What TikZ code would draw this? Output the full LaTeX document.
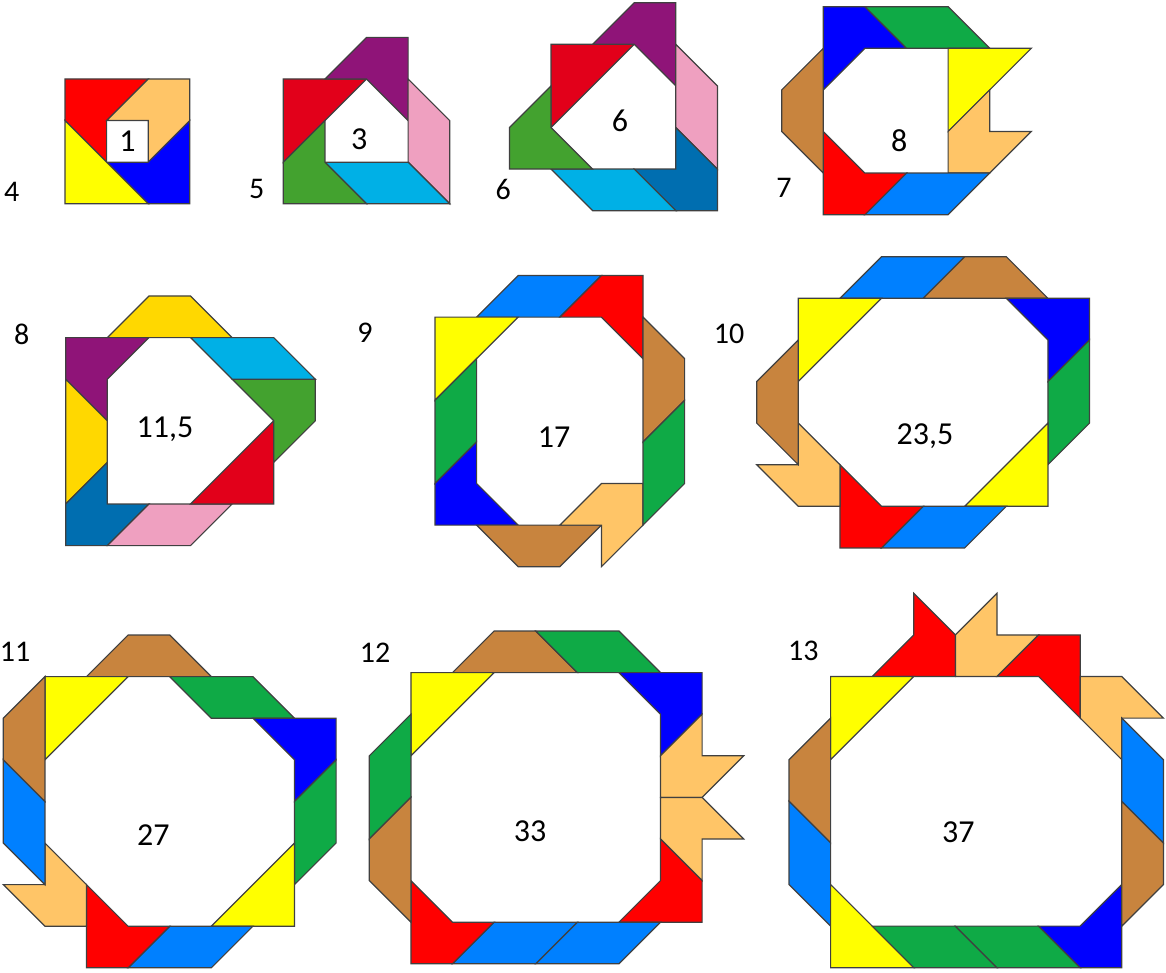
\documentclass[tikz,border=0pt]{standalone}
\usepackage{fontspec}
\setmainfont{Carlito}
\usepackage{xcolor}
\definecolor{tred}{HTML}{FF0000}
\definecolor{tcrimson}{HTML}{E2001A}
\definecolor{torange}{HTML}{FFC567}
\definecolor{tblue}{HTML}{0000FF}
\definecolor{tyellow}{HTML}{FFFF00}
\definecolor{tgold}{HTML}{FFD800}
\definecolor{tpurple}{HTML}{8F1478}
\definecolor{tpink}{HTML}{EFA0C0}
\definecolor{tgreenA}{HTML}{43A22F}
\definecolor{tgreenB}{HTML}{0FAA46}
\definecolor{tcyan}{HTML}{00B0E6}
\definecolor{tdarkblue}{HTML}{006EB0}
\definecolor{tazure}{HTML}{0080FF}
\definecolor{tbrown}{HTML}{C8843E}

\begin{document}
\begin{tikzpicture}[
    x=1pt, y=-1pt,
    piece/.style={draw=black!75, line width=1.2pt, line join=miter},
    grid/.style={x=41.6pt, y=-41.6pt},
    count/.style={font=\fontsize{30}{30}\selectfont},
    area/.style={font=\fontsize{32}{32}\selectfont}
]
    \useasboundingbox (0,0) rectangle (1166,973);

    % 4 pieces
    \begin{scope}[shift={(65,79)}, grid]
        \draw[piece, fill=tred] (0,0) -- (2,0) -- (1,1) -- (1,2) -- (0,1) -- cycle;
        \draw[piece, fill=torange] (1,1) -- (2,0) -- (3,0) -- (3,1) -- (2,2) -- (2,1) -- cycle;
        \draw[piece, fill=tblue] (3,1) -- (3,3) -- (2,3) -- (1,2) -- (2,2) -- cycle;
        \draw[piece, fill=tyellow] (0,1) -- (2,3) -- (0,3) -- cycle;
    \end{scope}

    % 5 pieces
    \begin{scope}[shift={(283.3,79)}, grid]
        \draw[piece, fill=tcrimson] (0,0) -- (2,0) -- (0,2) -- cycle;
        \draw[piece, fill=tpurple] (1,0) -- (2,-1) -- (3,-1) -- (3,1) -- (2,0) -- cycle;
        \draw[piece, fill=tpink] (3,0) -- (4,1) -- (4,3) -- (3,2) -- cycle;
        \draw[piece, fill=tcyan] (1,2) -- (3,2) -- (4,3) -- (2,3) -- cycle;
        \draw[piece, fill=tgreenA] (0,2) -- (1,1) -- (1,2) -- (2,3) -- (0,3) -- cycle;
    \end{scope}

    % 6 pieces
    \begin{scope}[shift={(551,44.3)}, grid]
        \draw[piece, fill=tcrimson] (0,0) -- (2,0) -- (0,2) -- cycle;
        \draw[piece, fill=tpurple] (1,0) -- (2,-1) -- (3,-1) -- (3,1) -- (2,0) -- cycle;
        \draw[piece, fill=tpink] (3,0) -- (4,1) -- (4,3) -- (3,2) -- cycle;
        \draw[piece, fill=tdarkblue] (2,3) -- (3,3) -- (3,2) -- (4,3) -- (4,4) -- (3,4) -- cycle;
        \draw[piece, fill=tcyan] (0,3) -- (2,3) -- (3,4) -- (1,4) -- cycle;
        \draw[piece, fill=tgreenA] (-1,2) -- (0,1) -- (0,2) -- (1,3) -- (-1,3) -- cycle;
    \end{scope}

    % 7 pieces
    \begin{scope}[shift={(823.3,6.7)}, grid]
        \draw[piece, fill=tblue] (0,0) -- (1,0) -- (2,1) -- (1,1) -- (0,2) -- cycle;
        \draw[piece, fill=tgreenB] (1,0) -- (3,0) -- (4,1) -- (2,1) -- cycle;
        \draw[piece, fill=tyellow] (3,1) -- (5,1) -- (3,3) -- cycle;
        \draw[piece, fill=torange] (3,3) -- (4,2) -- (4,3) -- (5,3) -- (4,4) -- (3,4) -- cycle;
        \draw[piece, fill=tazure] (2,4) -- (4,4) -- (3,5) -- (1,5) -- cycle;
        \draw[piece, fill=tred] (0,3) -- (1,4) -- (2,4) -- (1,5) -- (0,5) -- cycle;
        \draw[piece, fill=tbrown] (-1,2) -- (0,1) -- (0,4) -- (-1,3) -- cycle;
    \end{scope}

    % 8 pieces
    \begin{scope}[shift={(65.7,296)}, grid]
        \draw[piece, fill=tgold] (1,1) -- (2,0) -- (3,0) -- (4,1) -- cycle;
        \draw[piece, fill=tpurple] (0,1) -- (2,1) -- (1,2) -- (1,3) -- (0,2) -- cycle;
        \draw[piece, fill=tgold] (0,2) -- (1,3) -- (1,4) -- (0,5) -- cycle;
        \draw[piece, fill=tdarkblue] (0,5) -- (1,4) -- (1,5) -- (2,5) -- (1,6) -- (0,6) -- cycle;
        \draw[piece, fill=tpink] (2,5) -- (4,5) -- (3,6) -- (1,6) -- cycle;
        \draw[piece, fill=tcrimson] (3,5) -- (5,3) -- (5,5) -- cycle;
        \draw[piece, fill=tgreenA] (4,2) -- (6,2) -- (6,3) -- (5,4) -- (5,3) -- cycle;
        \draw[piece, fill=tcyan] (3,1) -- (5,1) -- (6,2) -- (4,2) -- cycle;
    \end{scope}

    % 9 pieces
    \begin{scope}[shift={(435,275.5)}, grid]
        \draw[piece, fill=tazure] (1,1) -- (2,0) -- (4,0) -- (3,1) -- cycle;
        \draw[piece, fill=tred] (3,1) -- (4,0) -- (5,0) -- (5,2) -- (4,1) -- cycle;
        \draw[piece, fill=tyellow] (0,1) -- (2,1) -- (0,3) -- cycle;
        \draw[piece, fill=tgreenB] (0,3) -- (1,2) -- (1,4) -- (0,5) -- cycle;
        \draw[piece, fill=tblue] (0,5) -- (1,4) -- (1,5) -- (2,6) -- (0,6) -- cycle;
        \draw[piece, fill=tbrown] (1,6) -- (4,6) -- (3,7) -- (2,7) -- cycle;
        \draw[piece, fill=torange] (3,6) -- (4,5) -- (5,5) -- (5,6) -- (4,7) -- (4,6) -- cycle;
        \draw[piece, fill=tbrown] (5,1) -- (6,2) -- (6,3) -- (5,4) -- cycle;
        \draw[piece, fill=tgreenB] (5,4) -- (6,3) -- (6,5) -- (5,6) -- cycle;
    \end{scope}

    % 10 pieces
    \begin{scope}[shift={(756.7,256.7)}, grid]
        \draw[piece, fill=tazure] (2,1) -- (3,0) -- (5,0) -- (4,1) -- cycle;
        \draw[piece, fill=tbrown] (4,1) -- (5,0) -- (6,0) -- (7,1) -- cycle;
        \draw[piece, fill=tyellow] (1,1) -- (3,1) -- (1,3) -- cycle;
        \draw[piece, fill=tblue] (6,1) -- (8,1) -- (8,2) -- (7,3) -- (7,2) -- cycle;
        \draw[piece, fill=tgreenB] (7,3) -- (8,2) -- (8,4) -- (7,5) -- cycle;
        \draw[piece, fill=tyellow] (5,6) -- (7,4) -- (7,6) -- cycle;
        \draw[piece, fill=tazure] (4,6) -- (6,6) -- (5,7) -- (3,7) -- cycle;
        \draw[piece, fill=tred] (2,5) -- (3,6) -- (4,6) -- (3,7) -- (2,7) -- cycle;
        \draw[piece, fill=torange] (1,4) -- (2,5) -- (2,6) -- (1,6) -- (0,5) -- (1,5) -- cycle;
        \draw[piece, fill=tbrown] (0,3) -- (1,2) -- (1,5) -- (0,4) -- cycle;
    \end{scope}

    % 11 pieces
    \begin{scope}[shift={(3.3,635)}, grid]
        \draw[piece, fill=tbrown] (2,1) -- (3,0) -- (4,0) -- (5,1) -- cycle;
        \draw[piece, fill=tyellow] (1,1) -- (3,1) -- (1,3) -- cycle;
        \draw[piece, fill=tgreenB] (4,1) -- (6,1) -- (7,2) -- (5,2) -- cycle;
        \draw[piece, fill=tblue] (6,2) -- (8,2) -- (8,3) -- (7,4) -- (7,3) -- cycle;
        \draw[piece, fill=tgreenB] (7,4) -- (8,3) -- (8,5) -- (7,6) -- cycle;
        \draw[piece, fill=tyellow] (5,7) -- (7,5) -- (7,7) -- cycle;
        \draw[piece, fill=tazure] (3,8) -- (4,7) -- (6,7) -- (5,8) -- cycle;
        \draw[piece, fill=tred] (2,6) -- (3,7) -- (4,7) -- (3,8) -- (2,8) -- cycle;
        \draw[piece, fill=torange] (1,5) -- (2,6) -- (2,7) -- (1,7) -- (0,6) -- (1,6) -- cycle;
        \draw[piece, fill=tazure] (0,3) -- (1,4) -- (1,6) -- (0,5) -- cycle;
        \draw[piece, fill=tbrown] (0,2) -- (1,1) -- (1,4) -- (0,3) -- cycle;
    \end{scope}

    % 12 pieces
    \begin{scope}[shift={(369.3,631)}, grid]
        \draw[piece, fill=tbrown] (2,1) -- (3,0) -- (4,0) -- (5,1) -- cycle;
        \draw[piece, fill=tgreenB] (4,0) -- (6,0) -- (7,1) -- (5,1) -- cycle;
        \draw[piece, fill=tyellow] (1,1) -- (3,1) -- (1,3) -- cycle;
        \draw[piece, fill=tblue] (6,1) -- (8,1) -- (8,2) -- (7,3) -- (7,2) -- cycle;
        \draw[piece, fill=torange] (7,3) -- (8,2) -- (8,3) -- (9,3) -- (8,4) -- (7,4) -- cycle;
        \draw[piece, fill=torange] (7,4) -- (8,4) -- (9,5) -- (8,5) -- (8,6) -- (7,5) -- cycle;
        \draw[piece, fill=tred] (7,5) -- (8,6) -- (8,7) -- (6,7) -- (7,6) -- cycle;
        \draw[piece, fill=tazure] (5,7) -- (7,7) -- (6,8) -- (4,8) -- cycle;
        \draw[piece, fill=tazure] (3,7) -- (5,7) -- (4,8) -- (2,8) -- cycle;
        \draw[piece, fill=tred] (1,6) -- (2,7) -- (3,7) -- (2,8) -- (1,8) -- cycle;
        \draw[piece, fill=tgreenB] (0,3) -- (1,2) -- (1,4) -- (0,5) -- cycle;
        \draw[piece, fill=tbrown] (0,5) -- (1,4) -- (1,7) -- (0,6) -- cycle;
    \end{scope}

    % 13 pieces
    \begin{scope}[shift={(789,593.3)}, grid]
        \draw[piece, fill=tred] (3,0) -- (4,1) -- (4,2) -- (2,2) -- (3,1) -- cycle;
        \draw[piece, fill=torange] (4,1) -- (5,0) -- (5,1) -- (6,1) -- (5,2) -- (4,2) -- cycle;
        \draw[piece, fill=tred] (5,2) -- (6,1) -- (7,1) -- (7,3) -- (6,2) -- cycle;
        \draw[piece, fill=torange] (7,2) -- (8,2) -- (9,3) -- (8,3) -- (8,4) -- (7,3) -- cycle;
        \draw[piece, fill=tyellow] (1,2) -- (3,2) -- (1,4) -- cycle;
        \draw[piece, fill=tbrown] (0,4) -- (1,3) -- (1,6) -- (0,5) -- cycle;
        \draw[piece, fill=tazure] (0,5) -- (1,6) -- (1,8) -- (0,7) -- cycle;
        \draw[piece, fill=tyellow] (1,7) -- (3,9) -- (1,9) -- cycle;
        \draw[piece, fill=tgreenB] (2,8) -- (4,8) -- (5,9) -- (3,9) -- cycle;
        \draw[piece, fill=tgreenB] (4,8) -- (6,8) -- (7,9) -- (5,9) -- cycle;
        \draw[piece, fill=tblue] (6,8) -- (7,8) -- (8,7) -- (8,9) -- (7,9) -- cycle;
        \draw[piece, fill=tbrown] (8,5) -- (9,6) -- (9,7) -- (8,8) -- cycle;
        \draw[piece, fill=tazure] (8,3) -- (9,4) -- (9,6) -- (8,5) -- cycle;
    \end{scope}

    % Piece counts
    \node[count] (c4) at (11.7,192) {4};
    \node[count] (c5) at (256.7,189) {5};
    \node[count] (c6) at (503.3,189) {6};
    \node[count] (c7) at (784,188.3) {7};
    \node[count] (c8) at (21.7,334) {8};
    \node[count] (c9) at (365,332.3) {9};
    \node[count] (c10) at (729,334) {10};
    \node[count] (c11) at (15,652.3) {11};
    \node[count] (c12) at (375,652.3) {12};
    \node[count] (c13) at (803.3,650.7) {13};

    % Hole areas
    \node[area] (a4) at (127.5,141) {1};
    \node[area] (a5) at (359.3,139) {3};
    \node[area] (a6) at (620,121) {6};
    \node[area] (a7) at (899.3,141) {8};
    \node[area] (a8) at (165,429) {11,5};
    \node[area] (a9) at (554,437.5) {17};
    \node[area] (a10) at (925,436) {23,5};
    \node[area] (a11) at (153.3,835) {27};
    \node[area] (a12) at (530,831) {33};
    \node[area] (a13) at (958.3,832.5) {37};
\end{tikzpicture}
\end{document}
